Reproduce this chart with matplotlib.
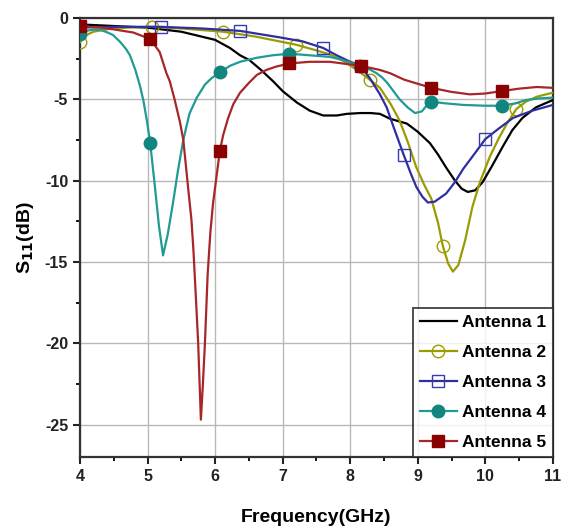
import numpy as np
import matplotlib
matplotlib.use("Agg")
import matplotlib.pyplot as plt
from matplotlib.ticker import MultipleLocator

plt.rcParams['font.family'] = ['Liberation Sans', 'DejaVu Sans']
plt.rcParams['font.weight'] = 'bold'
plt.rcParams['axes.unicode_minus'] = False

# Antenna 1 (no markers)
x1 = [4.0, 4.5, 5.0, 5.5, 6.0, 6.22, 6.37, 6.51, 6.68, 6.86, 7.0, 7.21, 7.4, 7.6, 7.8,
      7.95, 8.15, 8.3, 8.44, 8.59, 8.84, 9.0, 9.18, 9.3, 9.42, 9.55, 9.65, 9.74, 9.85,
      9.96, 10.1, 10.26, 10.4, 10.55, 10.75, 11.0]
y1 = [-0.4, -0.5, -0.6, -0.85, -1.35, -1.85, -2.3, -2.6, -3.2, -3.9, -4.5, -5.2, -5.7,
      -6.0, -6.0, -5.9, -5.85, -5.85, -5.9, -6.2, -6.5, -7.0, -7.7, -8.4, -9.2, -10.0,
      -10.5, -10.7, -10.6, -10.1, -9.1, -7.9, -6.9, -6.15, -5.5, -5.05]

# Antenna 2 (open circles)
x2 = [4.0, 4.1, 4.2, 4.4, 4.7, 5.06, 5.5, 6.12, 6.6, 7.2, 7.5, 7.7, 7.9, 8.1, 8.29,
      8.44, 8.6, 8.73, 8.85, 8.98, 9.1, 9.2, 9.3, 9.37, 9.45, 9.52, 9.6, 9.7, 9.81,
      9.92, 10.07, 10.2, 10.32, 10.46, 10.6, 10.76, 10.9, 11.0]
y2 = [-1.5, -1.05, -0.85, -0.7, -0.6, -0.55, -0.65, -0.85, -1.15, -1.65, -2.0, -2.25,
      -2.65, -3.2, -3.8, -4.3, -5.3, -6.3, -7.6, -9.2, -10.3, -11.1, -12.6, -14.0,
      -15.1, -15.6, -15.2, -13.7, -11.6, -10.1, -8.5, -7.4, -6.5, -5.6, -5.15, -4.85,
      -4.7, -4.6]
m2 = [4.0, 5.06, 6.12, 7.2, 8.29, 9.37, 10.46]

# Antenna 3 (open squares)
x3 = [4.0, 4.5, 5.2, 5.8, 6.37, 6.96, 7.3, 7.6, 7.8, 8.0, 8.14, 8.29, 8.44, 8.54,
      8.65, 8.79, 8.9, 8.98, 9.07, 9.15, 9.25, 9.42, 9.55, 9.67, 9.85, 10.0, 10.2,
      10.41, 10.7, 11.0]
y3 = [-0.6, -0.55, -0.55, -0.65, -0.8, -1.2, -1.45, -1.85, -2.3, -2.7, -2.9, -3.7,
      -4.7, -5.5, -6.8, -8.4, -9.6, -10.4, -11.0, -11.35, -11.3, -10.8, -10.1, -9.3,
      -8.3, -7.45, -6.8, -6.15, -5.7, -5.35]
m3 = [5.2, 6.37, 7.6, 8.79, 10.0]

# Antenna 4 (filled circles)
x4 = [4.0, 4.05, 4.1, 4.16, 4.22, 4.3, 4.38, 4.49, 4.6, 4.68, 4.74, 4.82, 4.89, 4.94,
      4.99, 5.04, 5.11, 5.17, 5.23, 5.3, 5.38, 5.45, 5.53, 5.62, 5.73, 5.85, 5.95,
      6.07, 6.22, 6.37, 6.62, 6.85, 7.1, 7.4, 7.7, 7.9, 8.04, 8.15, 8.28, 8.39, 8.47,
      8.55, 8.64, 8.73, 8.85, 8.96, 9.06, 9.13, 9.2, 9.4, 9.67, 10.0, 10.24, 10.45,
      10.6, 10.8, 11.0]
y4 = [-1.0, -0.88, -0.8, -0.74, -0.72, -0.74, -0.85, -1.05, -1.5, -1.9, -2.3, -3.2,
      -4.2, -5.1, -6.3, -7.7, -10.4, -12.8, -14.6, -13.3, -11.3, -9.4, -7.5, -5.9,
      -4.9, -4.1, -3.7, -3.35, -2.95, -2.7, -2.45, -2.3, -2.2, -2.3, -2.4, -2.6,
      -2.8, -2.95, -3.15, -3.4, -3.65, -4.0, -4.5, -5.0, -5.5, -5.85, -5.75, -5.4,
      -5.15, -5.25, -5.35, -5.4, -5.4, -5.25, -5.05, -4.95, -4.9]
m4 = [4.0, 5.04, 6.07, 7.1, 8.15, 9.2, 10.24]

# Antenna 5 (filled squares)
x5 = [4.0, 4.3, 4.49, 4.79, 5.04, 5.18, 5.28, 5.33, 5.4, 5.48, 5.53, 5.6, 5.65,
      5.68, 5.72, 5.75, 5.79, 5.82, 5.85, 5.89, 5.93, 5.97, 6.07, 6.12, 6.19, 6.27,
      6.37, 6.5, 6.62, 6.76, 6.9, 7.1, 7.4, 7.7, 8.16, 8.44, 8.59, 8.8, 9.2, 9.5,
      9.77, 10.0, 10.24, 10.5, 10.76, 11.0]
y5 = [-0.5, -0.6, -0.7, -0.9, -1.3, -2.1, -3.4, -3.9, -5.0, -6.4, -7.5, -10.4,
      -12.4, -14.3, -17.5, -20.0, -24.7, -22.5, -20.0, -15.8, -13.2, -11.4, -8.2,
      -7.2, -6.2, -5.3, -4.6, -4.0, -3.5, -3.2, -3.0, -2.8, -2.7, -2.7, -2.95, -3.2,
      -3.4, -3.8, -4.3, -4.55, -4.7, -4.65, -4.5, -4.35, -4.25, -4.3]
m5 = [4.0, 5.04, 6.07, 7.1, 8.16, 9.2, 10.24]

labels = ['Antenna 1', 'Antenna 2', 'Antenna 3', 'Antenna 4', 'Antenna 5']

fig = plt.figure(figsize=(5.63, 5.26), dpi=100)
ax = fig.add_axes([0.142, 0.131, 0.840, 0.835])

def idx(xs, ms):
    return [xs.index(v) for v in ms]

ax.plot(x1, y1, color='black', lw=1.6, label=labels[0], zorder=3)
ax.plot(x2, y2, color='#9b9b00', lw=1.6, marker='o', ms=9, mfc='none', mec='#9b9b00',
        markevery=idx(x2, m2), label=labels[1], zorder=3)
ax.plot(x3, y3, color='#2e2ea0', lw=1.6, marker='s', ms=8, mfc='none', mec='#3a3ab0',
        markevery=idx(x3, m3), label=labels[2], zorder=3)
ax.plot(x4, y4, color='#1f9b93', lw=1.6, marker='o', ms=9, mfc='#12857e', mec='#12857e',
        markevery=idx(x4, m4), label=labels[3], zorder=3)
ax.plot(x5, y5, color='#a8262a', lw=1.6, marker='s', ms=8, mfc='#8b0000', mec='#8b0000',
        markevery=idx(x5, m5), label=labels[4], zorder=3)

ax.set_xlim(4, 11)
ax.set_ylim(-27, 0)
ax.xaxis.set_major_locator(MultipleLocator(1))
ax.xaxis.set_minor_locator(MultipleLocator(0.5))
ax.yaxis.set_major_locator(MultipleLocator(5))
ax.yaxis.set_minor_locator(MultipleLocator(2.5))
ax.grid(True, which='major', color='#b8b8b8', lw=1.0, zorder=0)
ax.tick_params(which='major', direction='out', length=5, width=1.5, labelsize=11.5,
               top=False, right=False, colors='#222222')
ax.tick_params(which='minor', direction='out', length=3, width=1.3, top=False, right=False)
for lab in ax.get_xticklabels() + ax.get_yticklabels():
    lab.set_fontweight('bold')
for s in ax.spines.values():
    s.set_linewidth(1.6)
    s.set_color('#333333')

ax.set_xlabel('Frequency(GHz)', fontsize=14, fontweight='bold', labelpad=18)
ax.set_ylabel('S$_{\\mathbf{11}}$(dB)', fontsize=14, fontweight='bold', labelpad=6)

leg = ax.legend(loc='lower right', frameon=True, fancybox=False, borderaxespad=0,
                fontsize=12.5, handlelength=2.1, handletextpad=0.3, labelspacing=0.86,
                borderpad=0.4)
leg.get_frame().set_edgecolor('#222222')
leg.get_frame().set_linewidth(1.4)
for t in leg.get_texts():
    t.set_fontweight('bold')

fig.savefig('out.png', dpi=100)
